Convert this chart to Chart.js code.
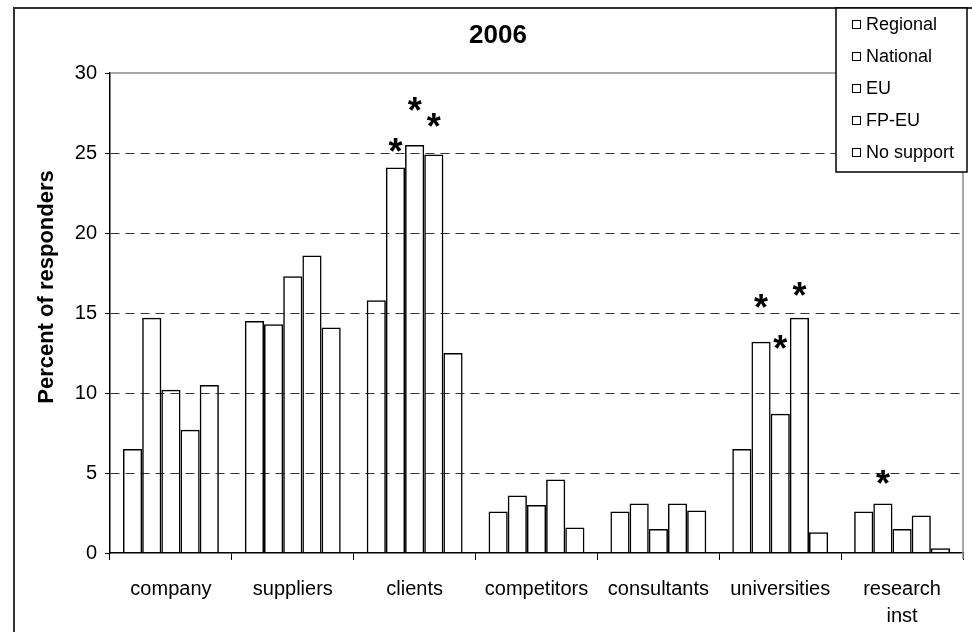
<!DOCTYPE html>
<html>
<head>
<meta charset="utf-8">
<script src="https://cdn.jsdelivr.net/npm/chart.js@4/dist/chart.umd.min.js"></script>
<style>
html,body{margin:0;padding:0;background:#fff;}
#wrap{width:972px;height:632px;position:relative;}
</style>
</head>
<body>
<div id="wrap"><canvas id="barChart" width="972" height="632"></canvas></div>
<script>
/* data */
const categories=['company','suppliers','clients','competitors','consultants','universities',['research','inst']];
const seriesNames=['Regional','National','EU','FP-EU','No support'];

const regional=[6.5,14.5,15.8,2.6,2.6,6.5,2.6];
const national=[14.7,14.3,24.1,3.6,3.1,13.2,3.1];
const eu=[10.2,17.3,25.5,3.0,1.5,8.7,1.5];
const fpEu=[7.7,18.6,24.9,4.6,3.1,14.7,2.35];
const noSupport=[10.5,14.1,12.5,1.6,2.65,1.3,0.3];

/* significance asterisks: level (in % units) where each star sits, null = none */
const starRegional=[null,null,null,null,null,null,null];
const starNational=[null,null,25.6,null,null,15.9,4.9];
const starEu=[null,null,28.2,null,null,13.3,null];
const starFpEu=[null,null,27.2,null,null,16.6,null];
const starNoSupport=[null,null,null,null,null,null,null];

const yTicks=[0,5,10,15,20,25,30];

const allSeries=[regional,national,eu,fpEu,noSupport];
const allStars=[starRegional,starNational,starEu,starFpEu,starNoSupport];

const FONT='Arial, "Liberation Sans", sans-serif';

/* frame, title, y title, legend and asterisks */
const extras={
id:'extras',
beforeDraw(chart){
const c=chart.ctx;
c.save();
c.fillStyle='#fff';
c.fillRect(0,0,chart.width,chart.height);
c.restore();
},
afterDatasetsDraw(chart){
const c=chart.ctx;
const y=chart.scales.y;
const a=chart.chartArea;
c.save();
// plot area border (top + right)
c.strokeStyle='#8c8c8c';
c.lineWidth=1.5;
c.beginPath();
c.moveTo(a.left,a.top);
c.lineTo(a.right,a.top);
c.lineTo(a.right,a.bottom+6);
c.stroke();

// stars
c.fillStyle='#000';
c.font='bold 36px '+FONT;
c.textAlign='center';
c.textBaseline='alphabetic';
allStars.forEach((arr,di)=>{
const meta=chart.getDatasetMeta(di);
arr.forEach((lv,i)=>{
if(lv===null)return;
const bar=meta.data[i];
c.fillText('*',bar.x,y.getPixelForValue(lv)+21);
});
});
c.restore();
},
afterDraw(chart){
const c=chart.ctx;
c.save();
// outer frame
c.strokeStyle='#333';
c.lineWidth=2;
c.beginPath();
c.moveTo(14,640);
c.lineTo(14,8);
c.lineTo(980,8);
c.stroke();

// title
c.fillStyle='#000';
c.font='bold 26px '+FONT;
c.textAlign='center';
c.textBaseline='middle';
c.fillText('2006',498,36);

// y axis title
c.save();
c.translate(47,287);
c.rotate(-Math.PI/2);
c.font='bold 22px '+FONT;
c.fillText('Percent of responders',0,0);
c.restore();

// legend box
const lx=836,ly=8,lw=131,lh=164;
c.fillStyle='#fff';
c.fillRect(lx,ly,lw,lh);
c.strokeStyle='#000';
c.lineWidth=1.5;
c.strokeRect(lx,ly,lw,lh);
c.font='18px '+FONT;
c.textAlign='left';
c.textBaseline='middle';
seriesNames.forEach((n,i)=>{
const cy=24+32*i;
c.lineWidth=1;
c.strokeStyle='#000';
c.strokeRect(852.5,cy-3.5,8,8);
c.fillStyle='#000';
c.fillText(n,866,cy+1);
});
c.restore();
}
};

const ctx=document.getElementById('barChart');

new Chart(ctx,{
type:'bar',
data:{
labels:categories,
datasets:seriesNames.map((n,i)=>({
label:n,
data:allSeries[i],
backgroundColor:'rgba(0,0,0,0)',
borderColor:'#000',
borderWidth:1.5,
categoryPercentage:0.787,
barPercentage:1
}))
},
options:{
responsive:false,
animation:false,
layout:{padding:{left:0,top:73,right:9,bottom:0}},
plugins:{legend:{display:false},tooltip:{enabled:false}},
scales:{
x:{
afterFit(s){s.height=79;},
grid:{drawOnChartArea:false,drawTicks:true,tickLength:7,tickColor:'#000',color:'#000'},
border:{color:'#000',width:1.5},
ticks:{color:'#000',font:{family:FONT,size:20,lineHeight:1.35},padding:16,maxRotation:0,autoSkip:false}
},
y:{
min:0,max:30,
afterFit(s){s.width=110;},
afterBuildTicks(s){s.ticks=yTicks.map(v=>({value:v}));},
grid:{
color:g=>(g.tick&&(g.tick.value===0||g.tick.value===30))?'rgba(0,0,0,0)':'#333',
lineWidth:1,
tickColor:'#000',
tickLength:5
},
border:{color:'#000',width:1.5,dash:[9,6]},
ticks:{color:'#000',font:{family:FONT,size:20},padding:8}
}
}
},
plugins:[extras]
});
</script>
</body>
</html>
